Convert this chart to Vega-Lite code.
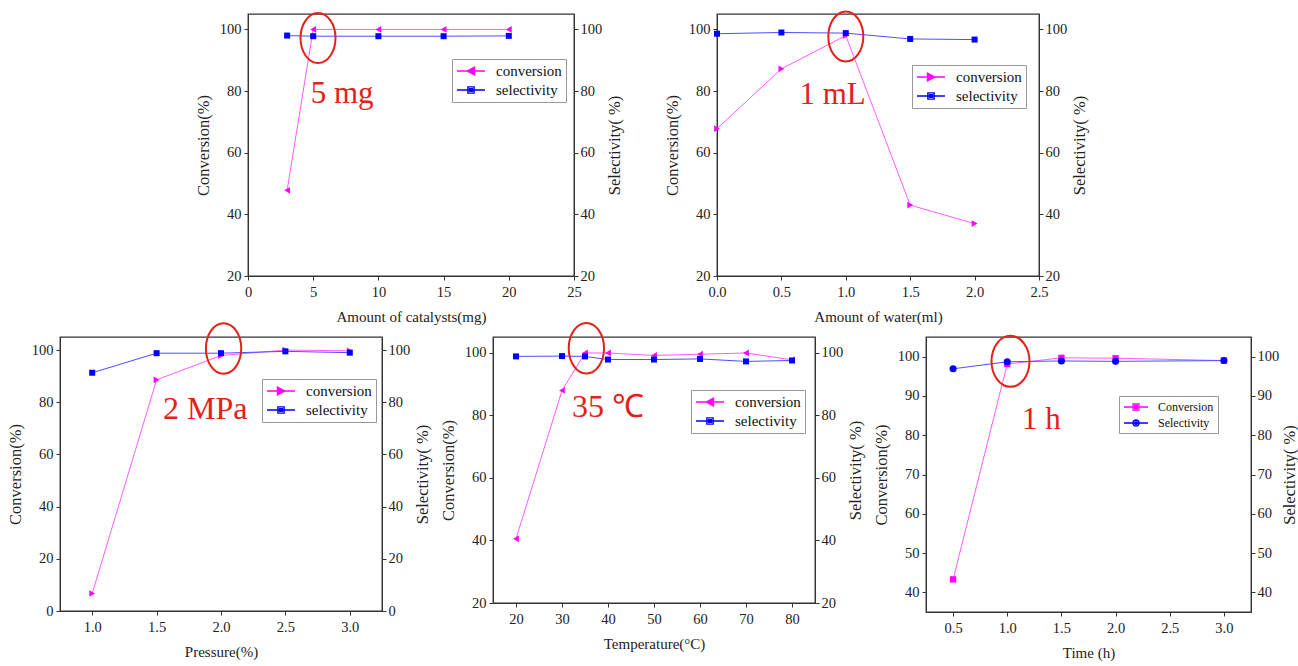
{
  "$schema": "https://vega.github.io/schema/vega-lite/v6.json",
  "background": "white",
  "padding": {"left": 6, "top": 6, "right": 2, "bottom": 2},
  "spacing": -8,
  "datasets": {
    "d1": [
      {"x": 3, "series": "conversion", "value": 47.8}, {"x": 5, "series": "conversion", "value": 100}, {"x": 10, "series": "conversion", "value": 100}, {"x": 15, "series": "conversion", "value": 100}, {"x": 20, "series": "conversion", "value": 100},
      {"x": 3, "series": "selectivity", "value": 98.0}, {"x": 5, "series": "selectivity", "value": 97.8}, {"x": 10, "series": "selectivity", "value": 97.8}, {"x": 15, "series": "selectivity", "value": 97.8}, {"x": 20, "series": "selectivity", "value": 97.9}
    ],
    "d2": [
      {"x": 0, "series": "conversion", "value": 67.8}, {"x": 0.5, "series": "conversion", "value": 87.2}, {"x": 1.0, "series": "conversion", "value": 98.0}, {"x": 1.5, "series": "conversion", "value": 43.0}, {"x": 2.0, "series": "conversion", "value": 37.0},
      {"x": 0, "series": "selectivity", "value": 98.6}, {"x": 0.5, "series": "selectivity", "value": 99.0}, {"x": 1.0, "series": "selectivity", "value": 98.8}, {"x": 1.5, "series": "selectivity", "value": 96.9}, {"x": 2.0, "series": "selectivity", "value": 96.7}
    ],
    "d3": [
      {"x": 1.0, "series": "conversion", "value": 6.7}, {"x": 1.5, "series": "conversion", "value": 88.6}, {"x": 2.0, "series": "conversion", "value": 97.9}, {"x": 2.5, "series": "conversion", "value": 100}, {"x": 3.0, "series": "conversion", "value": 99.7},
      {"x": 1.0, "series": "selectivity", "value": 91.3}, {"x": 1.5, "series": "selectivity", "value": 98.8}, {"x": 2.0, "series": "selectivity", "value": 98.8}, {"x": 2.5, "series": "selectivity", "value": 99.5}, {"x": 3.0, "series": "selectivity", "value": 99.0}
    ],
    "d4": [
      {"x": 20, "series": "conversion", "value": 40.5}, {"x": 30, "series": "conversion", "value": 87.9}, {"x": 35, "series": "conversion", "value": 99.9}, {"x": 40, "series": "conversion", "value": 99.9}, {"x": 50, "series": "conversion", "value": 99.1}, {"x": 60, "series": "conversion", "value": 99.5}, {"x": 70, "series": "conversion", "value": 99.9}, {"x": 80, "series": "conversion", "value": 97.7},
      {"x": 20, "series": "selectivity", "value": 98.8}, {"x": 30, "series": "selectivity", "value": 98.9}, {"x": 35, "series": "selectivity", "value": 98.8}, {"x": 40, "series": "selectivity", "value": 97.8}, {"x": 50, "series": "selectivity", "value": 97.8}, {"x": 60, "series": "selectivity", "value": 98.0}, {"x": 70, "series": "selectivity", "value": 97.2}, {"x": 80, "series": "selectivity", "value": 97.5}
    ],
    "d5": [
      {"x": 0.5, "series": "Conversion", "value": 43.3}, {"x": 1.0, "series": "Conversion", "value": 98.1}, {"x": 1.5, "series": "Conversion", "value": 99.7}, {"x": 2.0, "series": "Conversion", "value": 99.6}, {"x": 3.0, "series": "Conversion", "value": 99.0},
      {"x": 0.5, "series": "Selectivity", "value": 96.9}, {"x": 1.0, "series": "Selectivity", "value": 98.7}, {"x": 1.5, "series": "Selectivity", "value": 98.9}, {"x": 2.0, "series": "Selectivity", "value": 98.8}, {"x": 3.0, "series": "Selectivity", "value": 99.0}
    ],
    "a1": [{"kind": "text", "label": "5 mg", "x": 4.81, "value": 76}, {"kind": "ring", "label": "", "x": 5.37, "value": 97.2}],
    "a2": [{"kind": "text", "label": "1 mL", "x": 0.64, "value": 75.8}, {"kind": "ring", "label": "", "x": 1.0, "value": 97.7}],
    "a3": [{"kind": "text", "label": "2 MPa", "x": 1.55, "value": 73.7}, {"kind": "ring", "label": "", "x": 2.02, "value": 100.6}],
    "a4": [{"kind": "text", "label": "35 ℃", "x": 32.2, "value": 79.4}, {"kind": "ring", "label": "", "x": 35.3, "value": 101.4}],
    "a5": [{"kind": "text", "label": "1 h", "x": 1.136, "value": 81.7}, {"kind": "ring", "label": "", "x": 1.03, "value": 98.8}]
  },
  "vconcat": [
    {
      "bounds": "flush",
      "spacing": 143,
      "resolve": {"scale": {"color": "independent", "shape": "independent"}, "legend": {"color": "independent", "shape": "independent"}},
      "hconcat": [
        {"width": 45, "height": 262, "view": {"stroke": null}, "data": {"values": [{}]}, "mark": {"type": "text", "text": ""}, "encoding": {}},
        {
          "width": 326, "height": 262,
          "encoding": {"x": {"field": "x", "type": "quantitative", "scale": {"domain": [0, 25], "nice": false, "zero": false}, "axis": {"values": [0, 5, 10, 15, 20, 25], "title": "Amount of catalysts(mg)"}}},
          "layer": [
            {
              "data": {"name": "d1"},
              "encoding": {"y": {"field": "value", "type": "quantitative", "scale": {"domain": [20, 105], "nice": false, "zero": false}, "axis": {"values": [20, 40, 60, 80, 100], "title": "Conversion(%)"}}},
              "layer": [
                {"transform": [{"filter": "datum.series === 'conversion'"}], "mark": {"type": "line", "color": "#ff5cff", "strokeWidth": 1}},
                {"transform": [{"filter": "datum.series === 'conversion'"}], "mark": {"type": "point", "shape": "triangle-left", "filled": true, "color": "#ff00ff", "opacity": 1, "size": 45}},
                {"mark": {"type": "point", "opacity": 0, "filled": false},
                 "encoding": {
                   "color": {"field": "series", "type": "nominal", "scale": {"domain": ["conversion", "selectivity"], "range": ["#ff00ff", "#0000ff"]},
                     "legend": {"orient": "none", "legendX": 204, "legendY": 45, "title": null, "labelFont": "Liberation Serif", "labelFontSize": 15, "labelColor": "#111", "symbolSize": 196, "symbolOffset": 7, "labelOffset": 17, "symbolStrokeWidth": 1.4, "symbolOpacity": 1, "rowPadding": 3, "padding": 4, "strokeColor": "#999", "fillColor": "white"}},
                   "shape": {"field": "series", "type": "nominal", "scale": {"domain": ["conversion", "selectivity"], "range": ["M-2,0H2M-0.55,0L0.5,-0.55L0.5,0.55ZM-0.2,0L0.5,-0.3L0.5,0.3ZM0.25,-0.1V0.1", "M-2,0H2M-0.45,-0.45H0.45V0.45H-0.45ZM-0.2,-0.2H0.2V0.2H-0.2Z"]},
                     "legend": {"orient": "none", "legendX": 204, "legendY": 45, "title": null, "labelFont": "Liberation Serif", "labelFontSize": 15, "labelColor": "#111", "symbolSize": 196, "symbolOffset": 7, "labelOffset": 17, "symbolStrokeWidth": 1.4, "symbolOpacity": 1, "rowPadding": 3, "padding": 4, "strokeColor": "#999", "fillColor": "white"}}
                 }}
              ]
            },
            {
              "data": {"name": "d1"},
              "transform": [{"filter": "datum.series === 'selectivity'"}],
              "encoding": {"y": {"field": "value", "type": "quantitative", "scale": {"domain": [20, 105], "nice": false, "zero": false}, "axis": {"orient": "right", "values": [20, 40, 60, 80, 100], "title": "Selectivity( %)", "titleAngle": 270, "titleBaseline": "top", "titlePadding": 5, "labelPadding": 2}}},
              "layer": [
                {"mark": {"type": "line", "color": "#4d4dff", "strokeWidth": 1}},
                {"mark": {"type": "point", "shape": "square", "filled": true, "color": "#0000ff", "opacity": 1, "size": 36}}
              ]
            },
            {
              "data": {"name": "a1"},
              "encoding": {"y": {"field": "value", "type": "quantitative", "scale": {"domain": [20, 105], "nice": false, "zero": false}, "axis": null}},
              "layer": [
                {"transform": [{"filter": "datum.kind === 'ring'"}], "mark": {"type": "point", "shape": "M-0.7,0A0.7,1,0,1,0,0.7,0A0.7,1,0,1,0,-0.7,0Z", "size": 2500, "filled": false, "stroke": "#e32119", "strokeWidth": 2, "opacity": 1}},
                {"transform": [{"filter": "datum.kind === 'text'"}], "mark": {"type": "text", "font": "Liberation Serif", "fontSize": 31, "color": "#e32119", "align": "left", "baseline": "alphabetic"}, "encoding": {"text": {"field": "label"}}}
              ]
            }
          ],
          "resolve": {"scale": {"y": "independent"}}
        },
        {
          "width": 322, "height": 262,
          "encoding": {"x": {"field": "x", "type": "quantitative", "scale": {"domain": [0, 2.5], "nice": false, "zero": false}, "axis": {"values": [0, 0.5, 1, 1.5, 2, 2.5], "format": ".1f", "title": "Amount of water(ml)"}}},
          "layer": [
            {
              "data": {"name": "d2"},
              "encoding": {"y": {"field": "value", "type": "quantitative", "scale": {"domain": [20, 105], "nice": false, "zero": false}, "axis": {"values": [20, 40, 60, 80, 100], "title": "Conversion(%)"}}},
              "layer": [
                {"transform": [{"filter": "datum.series === 'conversion'"}], "mark": {"type": "line", "color": "#ff5cff", "strokeWidth": 1}},
                {"transform": [{"filter": "datum.series === 'conversion'"}], "mark": {"type": "point", "shape": "triangle-right", "filled": true, "color": "#ff00ff", "opacity": 1, "size": 45}},
                {"mark": {"type": "point", "opacity": 0, "filled": false},
                 "encoding": {
                   "color": {"field": "series", "type": "nominal", "scale": {"domain": ["conversion", "selectivity"], "range": ["#ff00ff", "#0000ff"]},
                     "legend": {"orient": "none", "legendX": 195, "legendY": 51, "title": null, "labelFont": "Liberation Serif", "labelFontSize": 15, "labelColor": "#111", "symbolSize": 196, "symbolOffset": 7, "labelOffset": 17, "symbolStrokeWidth": 1.4, "symbolOpacity": 1, "rowPadding": 3, "padding": 4, "strokeColor": "#999", "fillColor": "white"}},
                   "shape": {"field": "series", "type": "nominal", "scale": {"domain": ["conversion", "selectivity"], "range": ["M-2,0H2M0.55,0L-0.5,-0.55L-0.5,0.55ZM0.2,0L-0.5,-0.3L-0.5,0.3ZM-0.25,-0.1V0.1", "M-2,0H2M-0.45,-0.45H0.45V0.45H-0.45ZM-0.2,-0.2H0.2V0.2H-0.2Z"]},
                     "legend": {"orient": "none", "legendX": 195, "legendY": 51, "title": null, "labelFont": "Liberation Serif", "labelFontSize": 15, "labelColor": "#111", "symbolSize": 196, "symbolOffset": 7, "labelOffset": 17, "symbolStrokeWidth": 1.4, "symbolOpacity": 1, "rowPadding": 3, "padding": 4, "strokeColor": "#999", "fillColor": "white"}}
                 }}
              ]
            },
            {
              "data": {"name": "d2"},
              "transform": [{"filter": "datum.series === 'selectivity'"}],
              "encoding": {"y": {"field": "value", "type": "quantitative", "scale": {"domain": [20, 105], "nice": false, "zero": false}, "axis": {"orient": "right", "values": [20, 40, 60, 80, 100], "title": "Selectivity( %)", "titleAngle": 270, "titleBaseline": "top", "titlePadding": 5, "labelPadding": 2}}},
              "layer": [
                {"mark": {"type": "line", "color": "#4d4dff", "strokeWidth": 1}},
                {"mark": {"type": "point", "shape": "square", "filled": true, "color": "#0000ff", "opacity": 1, "size": 36}}
              ]
            },
            {
              "data": {"name": "a2"},
              "encoding": {"y": {"field": "value", "type": "quantitative", "scale": {"domain": [20, 105], "nice": false, "zero": false}, "axis": null}},
              "layer": [
                {"transform": [{"filter": "datum.kind === 'ring'"}], "mark": {"type": "point", "shape": "M-0.7,0A0.7,1,0,1,0,0.7,0A0.7,1,0,1,0,-0.7,0Z", "size": 2500, "filled": false, "stroke": "#e32119", "strokeWidth": 2, "opacity": 1}},
                {"transform": [{"filter": "datum.kind === 'text'"}], "mark": {"type": "text", "font": "Liberation Serif", "fontSize": 31, "color": "#e32119", "align": "left", "baseline": "alphabetic"}, "encoding": {"text": {"field": "label"}}}
              ]
            }
          ],
          "resolve": {"scale": {"y": "independent"}}
        }
      ]
    },
    {
      "bounds": "flush",
      "spacing": 111,
      "resolve": {"scale": {"color": "independent", "shape": "independent"}, "legend": {"color": "independent", "shape": "independent"}},
      "hconcat": [
        {
          "width": 322, "height": 274,
          "encoding": {"x": {"field": "x", "type": "quantitative", "scale": {"domain": [0.75, 3.25], "nice": false, "zero": false}, "axis": {"values": [1, 1.5, 2, 2.5, 3], "format": ".1f", "title": "Pressure(%)"}}},
          "layer": [
            {
              "data": {"name": "d3"},
              "encoding": {"y": {"field": "value", "type": "quantitative", "scale": {"domain": [0, 105], "nice": false, "zero": false}, "axis": {"values": [0, 20, 40, 60, 80, 100], "title": "Conversion(%)"}}},
              "layer": [
                {"transform": [{"filter": "datum.series === 'conversion'"}], "mark": {"type": "line", "color": "#ff5cff", "strokeWidth": 1}},
                {"transform": [{"filter": "datum.series === 'conversion'"}], "mark": {"type": "point", "shape": "triangle-right", "filled": true, "color": "#ff00ff", "opacity": 1, "size": 45}},
                {"mark": {"type": "point", "opacity": 0, "filled": false},
                 "encoding": {
                   "color": {"field": "series", "type": "nominal", "scale": {"domain": ["conversion", "selectivity"], "range": ["#ff00ff", "#0000ff"]},
                     "legend": {"orient": "none", "legendX": 202, "legendY": 42, "title": null, "labelFont": "Liberation Serif", "labelFontSize": 15, "labelColor": "#111", "symbolSize": 196, "symbolOffset": 7, "labelOffset": 17, "symbolStrokeWidth": 1.4, "symbolOpacity": 1, "rowPadding": 3, "padding": 4, "strokeColor": "#999", "fillColor": "white"}},
                   "shape": {"field": "series", "type": "nominal", "scale": {"domain": ["conversion", "selectivity"], "range": ["M-2,0H2M0.55,0L-0.5,-0.55L-0.5,0.55ZM0.2,0L-0.5,-0.3L-0.5,0.3ZM-0.25,-0.1V0.1", "M-2,0H2M-0.45,-0.45H0.45V0.45H-0.45ZM-0.2,-0.2H0.2V0.2H-0.2Z"]},
                     "legend": {"orient": "none", "legendX": 202, "legendY": 42, "title": null, "labelFont": "Liberation Serif", "labelFontSize": 15, "labelColor": "#111", "symbolSize": 196, "symbolOffset": 7, "labelOffset": 17, "symbolStrokeWidth": 1.4, "symbolOpacity": 1, "rowPadding": 3, "padding": 4, "strokeColor": "#999", "fillColor": "white"}}
                 }}
              ]
            },
            {
              "data": {"name": "d3"},
              "transform": [{"filter": "datum.series === 'selectivity'"}],
              "encoding": {"y": {"field": "value", "type": "quantitative", "scale": {"domain": [0, 105], "nice": false, "zero": false}, "axis": {"orient": "right", "values": [0, 20, 40, 60, 80, 100], "title": "Selectivity( %)", "titleAngle": 270, "titleBaseline": "top", "titlePadding": 5, "labelPadding": 2}}},
              "layer": [
                {"mark": {"type": "line", "color": "#4d4dff", "strokeWidth": 1}},
                {"mark": {"type": "point", "shape": "square", "filled": true, "color": "#0000ff", "opacity": 1, "size": 36}}
              ]
            },
            {
              "data": {"name": "a3"},
              "encoding": {"y": {"field": "value", "type": "quantitative", "scale": {"domain": [0, 105], "nice": false, "zero": false}, "axis": null}},
              "layer": [
                {"transform": [{"filter": "datum.kind === 'ring'"}], "mark": {"type": "point", "shape": "M-0.7,0A0.7,1,0,1,0,0.7,0A0.7,1,0,1,0,-0.7,0Z", "size": 2550, "filled": false, "stroke": "#e32119", "strokeWidth": 2, "opacity": 1}},
                {"transform": [{"filter": "datum.kind === 'text'"}], "mark": {"type": "text", "font": "Liberation Serif", "fontSize": 32, "color": "#e32119", "align": "left", "baseline": "alphabetic"}, "encoding": {"text": {"field": "label"}}}
              ]
            }
          ],
          "resolve": {"scale": {"y": "independent"}}
        },
        {
          "width": 322, "height": 266,
          "encoding": {"x": {"field": "x", "type": "quantitative", "scale": {"domain": [15, 85], "nice": false, "zero": false}, "axis": {"values": [20, 30, 40, 50, 60, 70, 80], "title": "Temperature(°C)"}}},
          "layer": [
            {
              "data": {"name": "d4"},
              "encoding": {"y": {"field": "value", "type": "quantitative", "scale": {"domain": [20, 105], "nice": false, "zero": false}, "axis": {"values": [20, 40, 60, 80, 100], "title": "Conversion(%)"}}},
              "layer": [
                {"transform": [{"filter": "datum.series === 'conversion'"}], "mark": {"type": "line", "color": "#ff5cff", "strokeWidth": 1}},
                {"transform": [{"filter": "datum.series === 'conversion'"}], "mark": {"type": "point", "shape": "triangle-left", "filled": true, "color": "#ff00ff", "opacity": 1, "size": 45}},
                {"mark": {"type": "point", "opacity": 0, "filled": false},
                 "encoding": {
                   "color": {"field": "series", "type": "nominal", "scale": {"domain": ["conversion", "selectivity"], "range": ["#ff00ff", "#0000ff"]},
                     "legend": {"orient": "none", "legendX": 198, "legendY": 53, "title": null, "labelFont": "Liberation Serif", "labelFontSize": 15, "labelColor": "#111", "symbolSize": 196, "symbolOffset": 7, "labelOffset": 17, "symbolStrokeWidth": 1.4, "symbolOpacity": 1, "rowPadding": 3, "padding": 4, "strokeColor": "#999", "fillColor": "white"}},
                   "shape": {"field": "series", "type": "nominal", "scale": {"domain": ["conversion", "selectivity"], "range": ["M-2,0H2M-0.55,0L0.5,-0.55L0.5,0.55ZM-0.2,0L0.5,-0.3L0.5,0.3ZM0.25,-0.1V0.1", "M-2,0H2M-0.45,-0.45H0.45V0.45H-0.45ZM-0.2,-0.2H0.2V0.2H-0.2Z"]},
                     "legend": {"orient": "none", "legendX": 198, "legendY": 53, "title": null, "labelFont": "Liberation Serif", "labelFontSize": 15, "labelColor": "#111", "symbolSize": 196, "symbolOffset": 7, "labelOffset": 17, "symbolStrokeWidth": 1.4, "symbolOpacity": 1, "rowPadding": 3, "padding": 4, "strokeColor": "#999", "fillColor": "white"}}
                 }}
              ]
            },
            {
              "data": {"name": "d4"},
              "transform": [{"filter": "datum.series === 'selectivity'"}],
              "encoding": {"y": {"field": "value", "type": "quantitative", "scale": {"domain": [20, 105], "nice": false, "zero": false}, "axis": {"orient": "right", "values": [20, 40, 60, 80, 100], "title": "Selectivity( %)", "titleAngle": 270, "titleBaseline": "top", "titlePadding": 5, "labelPadding": 2}}},
              "layer": [
                {"mark": {"type": "line", "color": "#4d4dff", "strokeWidth": 1}},
                {"mark": {"type": "point", "shape": "square", "filled": true, "color": "#0000ff", "opacity": 1, "size": 36}}
              ]
            },
            {
              "data": {"name": "a4"},
              "encoding": {"y": {"field": "value", "type": "quantitative", "scale": {"domain": [20, 105], "nice": false, "zero": false}, "axis": null}},
              "layer": [
                {"transform": [{"filter": "datum.kind === 'ring'"}], "mark": {"type": "point", "shape": "M-0.7,0A0.7,1,0,1,0,0.7,0A0.7,1,0,1,0,-0.7,0Z", "size": 2550, "filled": false, "stroke": "#e32119", "strokeWidth": 2, "opacity": 1}},
                {"transform": [{"filter": "datum.kind === 'text'"}], "mark": {"type": "text", "font": "Liberation Serif", "fontSize": 32, "color": "#e32119", "align": "left", "baseline": "alphabetic"}, "encoding": {"text": {"field": "label"}}}
              ]
            }
          ],
          "resolve": {"scale": {"y": "independent"}}
        },
        {
          "width": 325, "height": 275,
          "encoding": {"x": {"field": "x", "type": "quantitative", "scale": {"domain": [0.25, 3.25], "nice": false, "zero": false}, "axis": {"values": [0.5, 1, 1.5, 2, 2.5, 3], "format": ".1f", "title": "Time (h)"}}},
          "layer": [
            {
              "data": {"name": "d5"},
              "encoding": {"y": {"field": "value", "type": "quantitative", "scale": {"domain": [35, 105], "nice": false, "zero": false}, "axis": {"values": [40, 50, 60, 70, 80, 90, 100], "title": "Conversion(%)"}}},
              "layer": [
                {"transform": [{"filter": "datum.series === 'Conversion'"}], "mark": {"type": "line", "color": "#ff5cff", "strokeWidth": 1}},
                {"transform": [{"filter": "datum.series === 'Conversion'"}], "mark": {"type": "point", "shape": "square", "filled": true, "color": "#ff00ff", "opacity": 1, "size": 40}},
                {"mark": {"type": "point", "opacity": 0, "filled": false},
                 "encoding": {
                   "color": {"field": "series", "type": "nominal", "scale": {"domain": ["Conversion", "Selectivity"], "range": ["#ff00ff", "#0000ff"]},
                     "legend": {"orient": "none", "legendX": 193, "legendY": 59, "title": null, "labelFont": "Liberation Serif", "labelFontSize": 12, "labelColor": "#111", "symbolSize": 144, "symbolOffset": 6, "labelOffset": 15, "symbolStrokeWidth": 1.3, "symbolOpacity": 1, "rowPadding": 3, "padding": 4, "strokeColor": "#999", "fillColor": "white"}},
                   "shape": {"field": "series", "type": "nominal", "scale": {"domain": ["Conversion", "Selectivity"], "range": ["M-2,0H2M-0.5,-0.5H0.5V0.5H-0.5ZM-0.22,-0.22H0.22V0.22H-0.22Z", "M-2,0H2M-0.5,0A0.5,0.5,0,1,0,0.5,0A0.5,0.5,0,1,0,-0.5,0ZM-0.22,0A0.22,0.22,0,1,0,0.22,0A0.22,0.22,0,1,0,-0.22,0Z"]},
                     "legend": {"orient": "none", "legendX": 193, "legendY": 59, "title": null, "labelFont": "Liberation Serif", "labelFontSize": 12, "labelColor": "#111", "symbolSize": 144, "symbolOffset": 6, "labelOffset": 15, "symbolStrokeWidth": 1.3, "symbolOpacity": 1, "rowPadding": 3, "padding": 4, "strokeColor": "#999", "fillColor": "white"}}
                 }}
              ]
            },
            {
              "data": {"name": "d5"},
              "transform": [{"filter": "datum.series === 'Selectivity'"}],
              "encoding": {"y": {"field": "value", "type": "quantitative", "scale": {"domain": [35, 105], "nice": false, "zero": false}, "axis": {"orient": "right", "values": [40, 50, 60, 70, 80, 90, 100], "title": "Selectivity( %)", "titleAngle": 270, "titleBaseline": "top", "titlePadding": 3, "labelPadding": 2}}},
              "layer": [
                {"mark": {"type": "line", "color": "#4d4dff", "strokeWidth": 1}},
                {"mark": {"type": "point", "shape": "circle", "filled": true, "color": "#0000ff", "opacity": 1, "size": 50}}
              ]
            },
            {
              "data": {"name": "a5"},
              "encoding": {"y": {"field": "value", "type": "quantitative", "scale": {"domain": [35, 105], "nice": false, "zero": false}, "axis": null}},
              "layer": [
                {"transform": [{"filter": "datum.kind === 'ring'"}], "mark": {"type": "point", "shape": "M-0.745,0A0.745,1,0,1,0,0.745,0A0.745,1,0,1,0,-0.745,0Z", "size": 2600, "filled": false, "stroke": "#e32119", "strokeWidth": 2, "opacity": 1}},
                {"transform": [{"filter": "datum.kind === 'text'"}], "mark": {"type": "text", "font": "Liberation Serif", "fontSize": 31, "color": "#e32119", "align": "left", "baseline": "alphabetic"}, "encoding": {"text": {"field": "label"}}}
              ]
            }
          ],
          "resolve": {"scale": {"y": "independent"}}
        }
      ]
    }
  ],
  "config": {
    "font": "Liberation Serif",
    "view": {"stroke": "#333", "strokeWidth": 1.3},
    "axis": {
      "grid": false,
      "labelFont": "Liberation Serif",
      "labelFontSize": 14.5,
      "labelColor": "#222",
      "titleFont": "Liberation Serif",
      "titleFontWeight": "normal",
      "titleColor": "#222",
      "domainColor": "#333",
      "tickColor": "#333",
      "tickSize": 4,
      "labelPadding": 3,
      "labelFlush": false,
      "labelOverlap": false,
      "labelBound": false
    },
    "axisX": {"titleFontSize": 15, "titlePadding": 11, "labelPadding": 5},
    "axisY": {"titleFontSize": 16.5, "titlePadding": 8}
  }
}
